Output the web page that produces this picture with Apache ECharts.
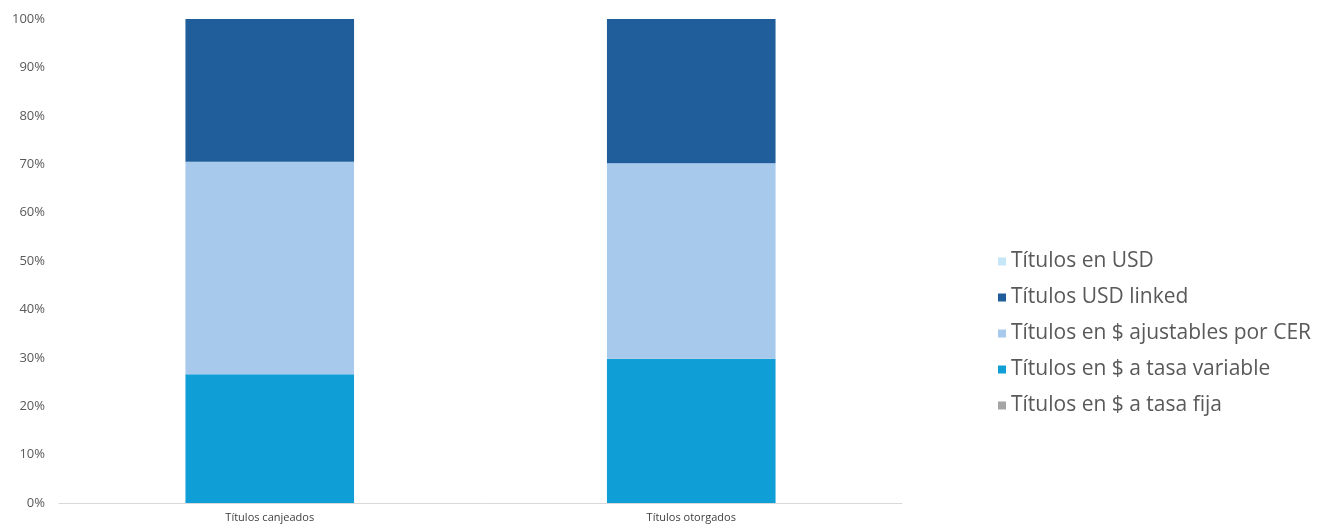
<!DOCTYPE html>
<html><head><meta charset="utf-8">
<script src="https://cdn.jsdelivr.net/npm/echarts@6/dist/echarts.min.js"></script>
<style>html,body{margin:0;padding:0;background:#fff}#c{width:1338px;height:532px}</style>
</head><body><div id="c"></div>
<script>
const categories = ['Títulos canjeados', 'Títulos otorgados'];
const seriesNames = ['Títulos en $ a tasa fija', 'Títulos en $ a tasa variable', 'Títulos en $ ajustables por CER', 'Títulos USD linked', 'Títulos en USD'];
const tasaFija = [0, 0];
const tasaVariable = [26.6, 29.8];
const cer = [43.9, 40.4];
const usdLinked = [29.5, 29.8];
const usd = [0, 0];
const colors = ['#a5a5a5', '#109ed6', '#a7c9eb', '#1f5e9a', '#c6e7f8'];
const yTicks = [0, 10, 20, 30, 40, 50, 60, 70, 80, 90, 100];

const values = [tasaFija, tasaVariable, cer, usdLinked, usd];
const chart = echarts.init(document.getElementById('c'));
chart.setOption({
  animation: false,
  grid: { left: 59, right: 436, top: 19, bottom: 29 },
  legend: {
    orient: 'vertical', left: 993, top: 246,
    data: seriesNames.slice().reverse(),
    itemWidth: 8, itemHeight: 8, itemGap: 15,
    icon: 'rect',
    textStyle: { fontSize: 21, lineHeight: 20, color: '#595959', fontFamily: "'Open Sans'" }
  },
  xAxis: {
    type: 'category', data: categories,
    axisLine: { lineStyle: { color: '#d9d9d9' } },
    axisTick: { show: false },
    axisLabel: { fontSize: 11, color: '#404040', margin: 9, fontFamily: "'Open Sans'" }
  },
  yAxis: {
    type: 'value', min: 0, max: 100, interval: 10,
    axisLine: { show: false }, axisTick: { show: false },
    splitLine: { show: false },
    axisLabel: { formatter: v => yTicks.includes(v) ? v + '%' : '', fontSize: 13, color: '#595959', margin: 14, fontFamily: "'Open Sans'" }
  },
  series: seriesNames.map((n, i) => ({
    name: n, type: 'bar', stack: 'a', barWidth: '40%',
    itemStyle: { color: colors[i] },
    data: values[i]
  }))
});
</script></body></html>
